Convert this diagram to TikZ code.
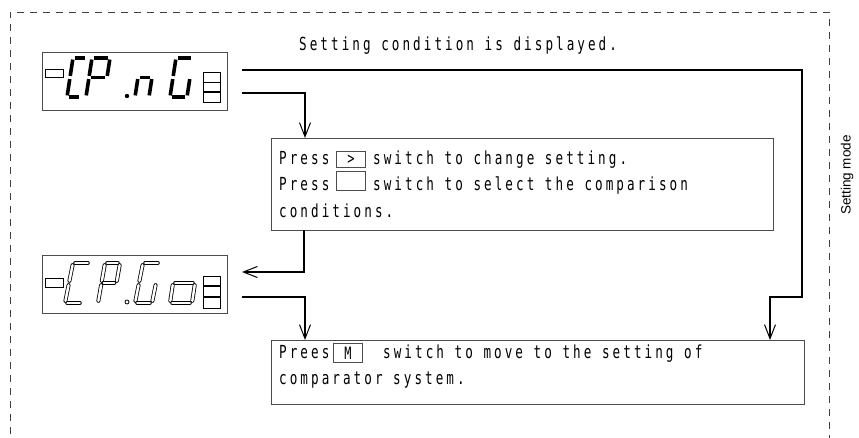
\documentclass[tikz,border=0pt]{standalone}
\usepackage{fontspec}
\newfontfamily\gothic[FakeStretch=0.7,LetterSpace=17]{DejaVu Sans Mono}
\newfontfamily\sidefont{Liberation Sans}
\usetikzlibrary{arrows.meta}
\newcommand\sevdig[7]{%
  \begin{scope}[shift={(#2,#3)}]
    \coordinate (TL) at (#6,0);
    \coordinate (TR) at ({#4+#6},0);
    \coordinate (ML) at ({#6/2},{#5/2});
    \coordinate (MR) at ({#4+#6/2},{#5/2});
    \coordinate (BL) at (0,#5);
    \coordinate (BR) at (#4,#5);
    \foreach \p/\q in {#7} {\draw[#1] (\p) -- (\q);}
  \end{scope}}
\begin{document}
\begin{tikzpicture}[x=1pt,y=-1pt,
  txt/.style={inner sep=0pt,anchor=base west,font=\gothic\fontsize{18}{20}\selectfont},
  frame/.style={draw=black!75,line width=0.8pt,dash pattern=on 7pt off 6pt},
  panel/.style={draw=black!70,line width=0.9pt,anchor=north west,inner sep=0pt},
  keybox/.style={draw=black!70,line width=0.8pt,anchor=north west,inner sep=0pt,font=\gothic\fontsize{17}{18}\selectfont},
  conn/.style={line width=1.2pt,black},
  arr/.style={conn,-{Straight Barb[length=14pt,width=11pt,line width=1pt]}},
  segfill/.style={line width=3.6pt,black,shorten <=1.6pt,shorten >=1.6pt},
  segout/.style={line width=0.8pt,black,double=white,double distance=2.4pt,line cap=round,shorten <=2.2pt,shorten >=2.2pt},
  small/.style={draw=black,line width=0.9pt,inner sep=0pt}]
\useasboundingbox (0,0) rectangle (859,438);
% dashed frame
\draw[frame] (10,460) -- (10,12) -- (829,12) -- (829,460);
% displays
\node[panel,minimum width=185pt,minimum height=58pt] (disp1) at (42,52) {};
\node[panel,minimum width=185pt,minimum height=58pt] (disp2) at (42,255) {};
% display 1 contents
\draw[small] (45,69) rectangle (63,77);
\draw[small] (203,72) rectangle (220,102);
\draw[line width=0.9pt] (203,82) -- (220,82);
\draw[line width=2pt] (203,92) -- (220,92);
\sevdig{segfill}{67}{58}{14}{39}{6}{TL/TR,BL/BR,ML/BL,TL/ML}
\sevdig{segfill}{86}{58}{18}{39}{6}{TL/TR,TR/MR,TL/ML,ML/MR,ML/BL}
\fill (127,96) circle (2.2pt);
\sevdig{segfill}{135}{58}{14}{39}{6}{ML/MR,MR/BR,ML/BL}
\sevdig{segfill}{170}{58}{17}{39}{6}{TL/TR,TL/ML,ML/BL,BL/BR,MR/BR}
% display 2 contents
\draw[small] (45,278) rectangle (63,287);
\draw[small] (203,276) rectangle (220,308);
\draw[line width=2pt] (203,286.5) -- (220,286.5);
\draw[line width=2pt] (203,297) -- (220,297);
\sevdig{segout}{65}{263}{17}{40}{8}{TL/TR,BL/BR,ML/BL,TL/ML}
\sevdig{segout}{98}{263}{15}{40}{7}{TL/TR,TR/MR,TL/ML,ML/MR,ML/BL}
\draw[line width=0.8pt] (127,302) circle (2pt);
\sevdig{segout}{135}{263}{17}{40}{8}{TL/TR,TL/ML,ML/BL,BL/BR,MR/BR}
\sevdig{segout}{170}{263}{22}{40}{6}{ML/MR,MR/BR,ML/BL,BL/BR}
% boxes
\node[panel,minimum width=502pt,minimum height=92pt] (box1) at (271,138) {};
\node[panel,minimum width=533pt,minimum height=64pt] (box2) at (271,340) {};
% texts
\node[txt] (title) at (299,51) {Setting condition is displayed.};
\node[txt] (t1a) at (279,165) {Press};
\node[keybox,minimum width=29pt,minimum height=16pt] (k1) at (336,151.5) {>};
\node[txt] (t1b) at (373,165) {switch to change setting.};
\node[txt] (t2a) at (279,191) {Press};
\node[keybox,minimum width=29pt,minimum height=19pt] (k2) at (336,171) {};
\node[txt] (t2b) at (373,191) {switch to select the comparison};
\node[txt] (t3) at (279,218) {conditions.};
\node[txt] (u1a) at (279,358) {Prees};
\node[keybox,minimum width=29pt,minimum height=19pt] (k3) at (333,343) {M};
\node[txt] (u1b) at (383,358) {switch to move to the setting of};
\node[txt] (u2) at (279,384) {comparator system.};
\node[inner sep=0pt,anchor=center,rotate=90,font=\sidefont\fontsize{13.5}{15}\selectfont] (mode) at (847,175) {Setting mode};
% connectors
\coordinate (s1) at (242,70);
\coordinate (j1) at (802,297);
\coordinate (e1) at (770,340);
\coordinate (s2) at (242,93);
\coordinate (e2) at (305,138);
\coordinate (b3) at (304,230);
\coordinate (t3e) at (242,272);
\coordinate (s4) at (242,297);
\coordinate (e4) at (305,340);
\draw[arr] (s1) -| (j1) -| (e1);
\draw[arr] (s2) -| (e2);
\draw[arr] (b3) |- (t3e);
\draw[arr] (s4) -| (e4);
\end{tikzpicture}
\end{document}
